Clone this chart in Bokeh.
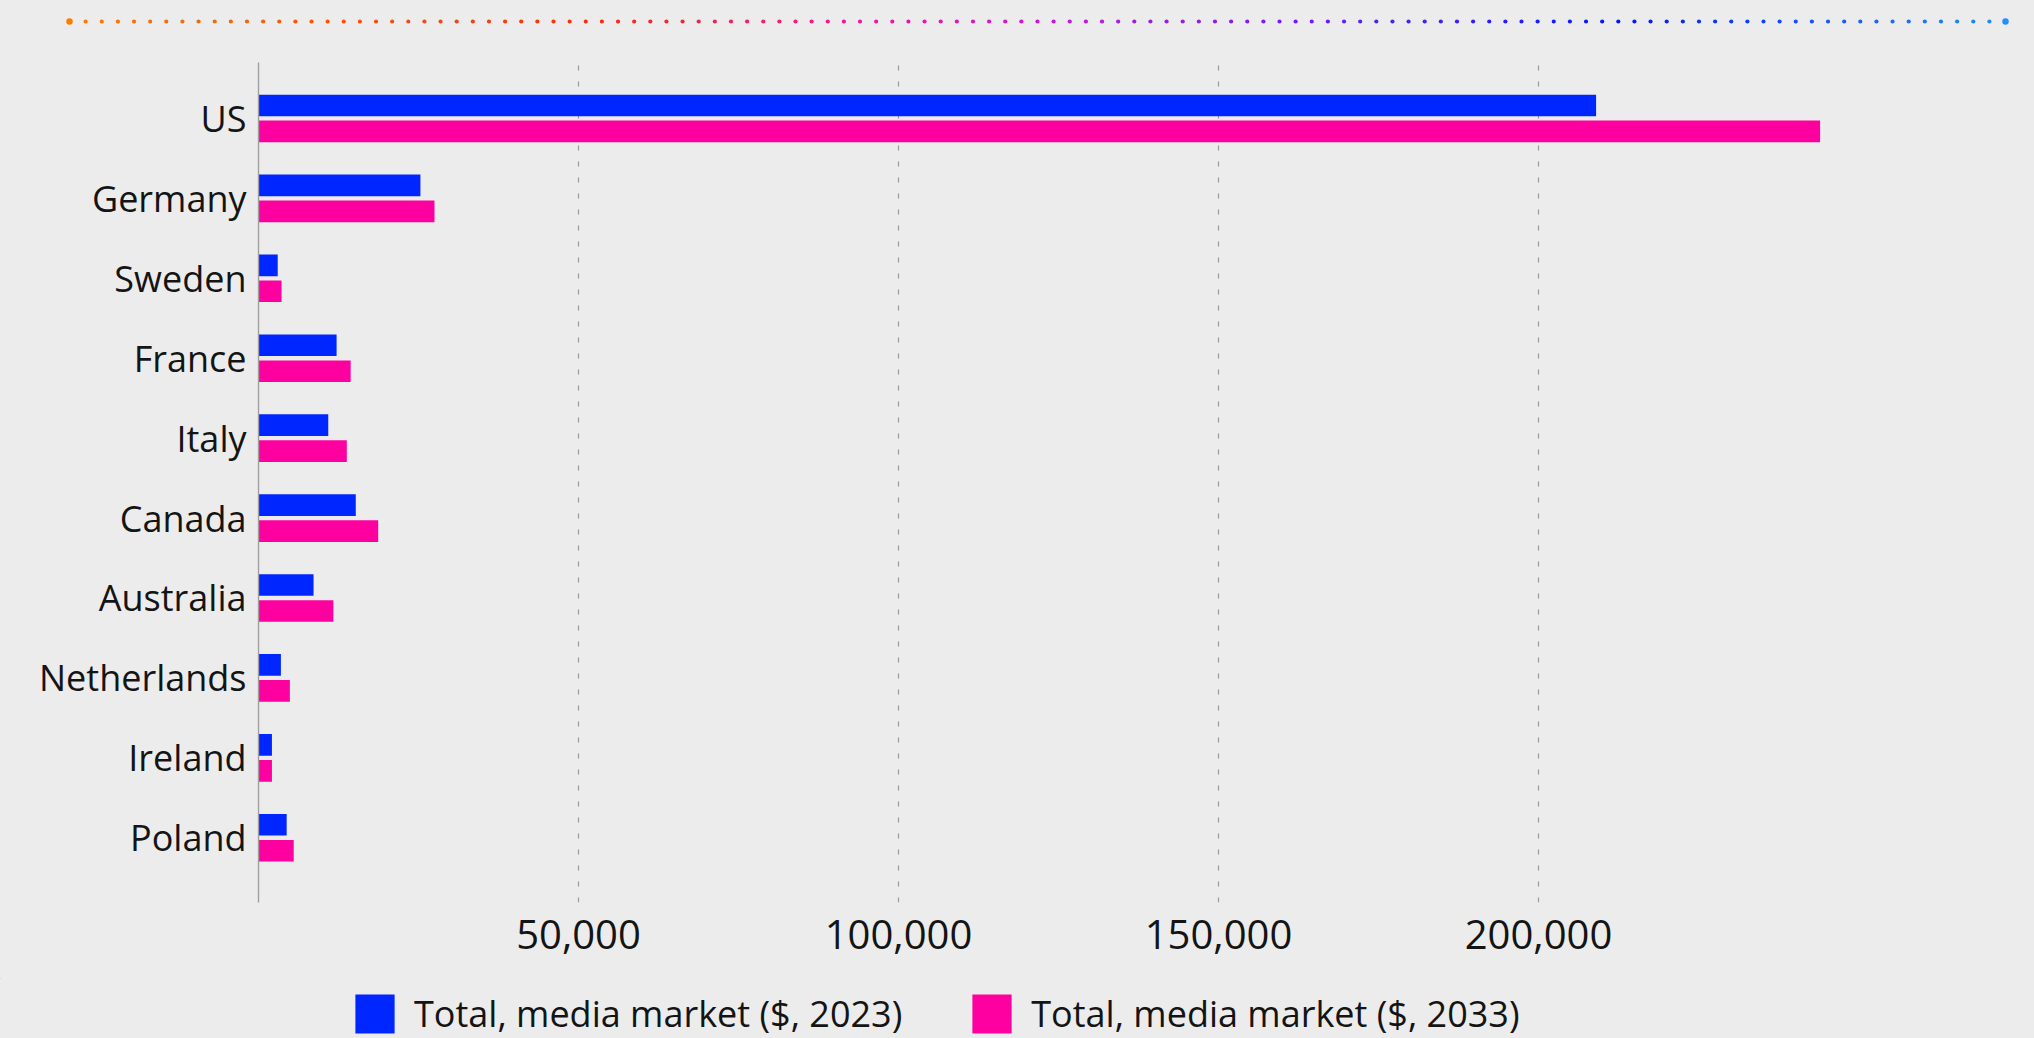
import numpy as np
from bokeh.plotting import figure
from bokeh.models import (Range1d, FixedTicker, NumeralTickFormatter,
                          ColumnDataSource, Legend, LegendItem)
from bokeh.layouts import column
from bokeh.embed import file_html
from bokeh.resources import INLINE

# ---------------- data ----------------
countries = ["US", "Germany", "Sweden", "France", "Italy", "Canada",
             "Australia", "Netherlands", "Ireland", "Poland"]
market_2023 = [209000, 25300, 3000, 12200, 10900, 15200, 8600, 3500, 2100, 4400]
market_2033 = [244000, 27500, 3600, 14400, 13800, 18700, 11700, 4900, 2100, 5500]
x_ticks = [50000, 100000, 150000, 200000, 250000]
series_labels = ["Total, media market ($, 2023)", "Total, media market ($, 2033)"]

BG = "#ececec"
BLUE = "#0026ff"
PINK = "#ff00a0"
TEXT = "#141414"
FONT = "Open Sans"

W = 2034
TOP_H = 40
MAIN_H = 938
LEG_H = 60


def bare(fig):
    fig.frame_align = False
    fig.background_fill_color = BG
    fig.border_fill_color = BG
    fig.outline_line_color = BG
    fig.outline_line_width = 3
    fig.grid.visible = False
    return fig


# ---------------- decorative dotted gradient line ----------------
top = bare(figure(width=W, height=TOP_H, x_range=Range1d(0, W), y_range=Range1d(0, TOP_H),
                  output_backend="svg", toolbar_location=None,
                  x_axis_location=None, y_axis_location=None,
                  min_border=0, min_border_left=0, min_border_right=0,
                  min_border_top=0, min_border_bottom=0))

stops_t = [0.0, 0.28, 0.43, 0.52, 0.66, 0.8, 1.0]
stops_c = [(255, 122, 0), (255, 40, 20), (245, 16, 180), (190, 24, 220),
           (96, 32, 255), (0, 24, 255), (30, 144, 255)]
n_dots = 121
t = np.linspace(0, 1, n_dots)
cols = []
for ti in t:
    r = np.interp(ti, stops_t, [c[0] for c in stops_c])
    g = np.interp(ti, stops_t, [c[1] for c in stops_c])
    b = np.interp(ti, stops_t, [c[2] for c in stops_c])
    cols.append("#%02x%02x%02x" % (int(r), int(g), int(b)))
dx = np.linspace(69, 2005, n_dots)
dy = np.full(n_dots, TOP_H - 21)
sz = np.full(n_dots, 4.2)
sz[0] = 6.5
sz[-1] = 6.5
top.scatter(x=dx, y=dy, size=sz, color=cols, line_color=None)

# ---------------- main chart ----------------
n = len(countries)
ypos = [n - 1 - i for i in range(n)]          # US at top
p = figure(width=W, height=MAIN_H,
           y_range=Range1d(-0.5 - 0.31, n - 0.5 + 0.2),
           x_range=Range1d(0, 250000),
           output_backend="svg", toolbar_location=None,
           min_border_left=258, min_border_right=176,
           min_border_top=22, min_border_bottom=76)
p.frame_align = False
p.background_fill_color = BG
p.border_fill_color = BG
p.outline_line_color = BG
p.outline_line_width = 3

off = 0.1625
src = ColumnDataSource(dict(country=countries, v23=market_2023, v33=market_2033,
                            y23=[y + off for y in ypos], y33=[y - off for y in ypos]))
p.hbar(y="y23", right="v23", left=0, height=0.271, source=src,
       color=BLUE, line_color=None)
p.hbar(y="y33", right="v33", left=0, height=0.271, source=src,
       color=PINK, line_color=None)

# x axis
p.xaxis.ticker = FixedTicker(ticks=x_ticks)
p.xaxis.formatter = NumeralTickFormatter(format="0,0")
p.xaxis.major_label_overrides = {250000: ""}
p.xaxis.axis_line_color = None
p.xaxis.major_tick_line_color = None
p.xaxis.minor_tick_line_color = None
p.xaxis.major_label_text_font = FONT
p.xaxis.major_label_text_font_size = "40px"
p.xaxis.major_label_text_color = TEXT
p.xaxis.major_label_standoff = 11

p.xgrid.ticker = FixedTicker(ticks=x_ticks)
p.xgrid.grid_line_color = "#9a9a9a"
p.xgrid.grid_line_dash = "5 11"
p.xgrid.grid_line_width = 1.2
p.ygrid.visible = False

# y axis (categories)
p.yaxis.ticker = FixedTicker(ticks=ypos)
p.yaxis.major_label_overrides = {y: c for y, c in zip(ypos, countries)}
p.yaxis.axis_line_color = "#a0a0a0"
p.yaxis.axis_line_width = 1.4
p.yaxis.major_tick_line_color = None
p.yaxis.minor_tick_line_color = None
p.yaxis.major_label_text_font = FONT
p.yaxis.major_label_text_font_size = "36px"
p.yaxis.major_label_text_color = TEXT
p.yaxis.major_label_standoff = 6

# ---------------- legend row ----------------
leg = bare(figure(width=W, height=LEG_H, x_range=Range1d(0, W), y_range=Range1d(0, 1),
                  output_backend="svg", toolbar_location=None,
                  x_axis_location=None, y_axis_location=None,
                  min_border=0, min_border_left=0, min_border_right=0,
                  min_border_top=0, min_border_bottom=0))
# proxy glyphs for the legend keys (placed far outside the visible range)
proxy = ColumnDataSource(dict(y=[50.0], left=[-9000], right=[-8000]))
l1 = leg.hbar(y="y", left="left", right="right", height=0.5, source=proxy,
              color=BLUE, line_color=None)
l2 = leg.hbar(y="y", left="left", right="right", height=0.5, source=proxy,
              color=PINK, line_color=None)

legend = Legend(items=[LegendItem(label=series_labels[0], renderers=[l1]),
                       LegendItem(label=series_labels[1], renderers=[l2])],
                orientation="horizontal", location=(350, 0))
legend.background_fill_alpha = 0
legend.border_line_color = None
legend.padding = 0
legend.margin = 0
legend.spacing = 65
legend.glyph_width = 49
legend.glyph_height = 49
legend.label_standoff = 15
legend.label_text_font = FONT
legend.label_text_font_size = "36px"
legend.label_text_color = TEXT
leg.add_layout(legend, "center")

layout = column(top, p, leg, spacing=0)

html = file_html(layout, INLINE)
html = html.replace("</head>",
                    "<style>html,body{margin:0;padding:0;background:#ececec;}</style></head>", 1)
open("out.html", "w").write(html)
